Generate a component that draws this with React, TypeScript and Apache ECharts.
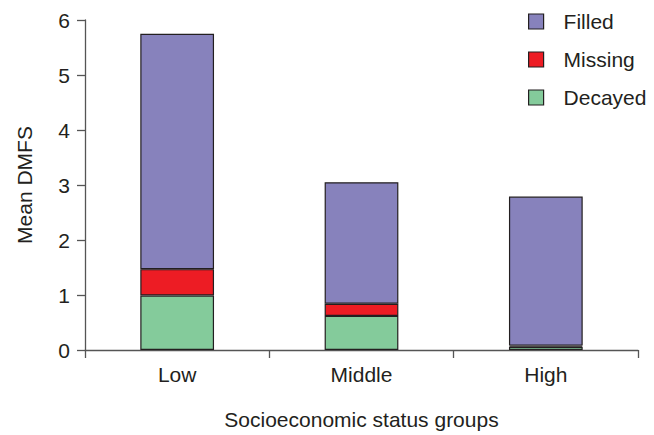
import React, { useEffect, useRef } from "react";
import * as echarts from "echarts";

const categories = ["Low", "Middle", "High"];
const decayed = [0.99, 0.62, 0.06];
const missing = [0.48, 0.22, 0.02];
const filled = [4.28, 2.21, 2.71];
const yTicks = [0, 6, 1];

const FONT = "'Liberation Sans', Arial, Helvetica, sans-serif";
const TXT = "#231f20";

export default function App() {
  const ref = useRef<HTMLDivElement>(null);
  useEffect(() => {
    if (!ref.current) return;
    const chart = echarts.init(ref.current, null, { renderer: "svg" });
    const border = { borderColor: "#231f20", borderWidth: 1.2 };
    chart.setOption({
      animation: false,
      textStyle: { fontFamily: FONT },
      grid: { left: 85, right: 16, top: 20, bottom: 80, containLabel: false },
      legend: {
        orient: "vertical",
        left: 528,
        top: 11,
        padding: 0,
        itemWidth: 15,
        itemHeight: 15,
        itemGap: 17,
        icon: "rect",
        data: ["Filled", "Missing", "Decayed"],
        itemStyle: { borderColor: "#231f20", borderWidth: 1.2 },
        textStyle: { fontSize: 21, color: TXT, fontFamily: FONT, padding: [0, 0, 0, 15] },
      },
      xAxis: {
        type: "category",
        data: categories,
        name: "Socioeconomic status groups",
        nameLocation: "middle",
        nameGap: 59,
        nameTextStyle: { fontSize: 21, color: TXT, fontFamily: FONT, verticalAlign: "top" },
        axisLine: { lineStyle: { color: "#555", width: 1.3 } },
        axisTick: { show: true, length: 8, lineStyle: { color: "#555", width: 1.3 } },
        axisLabel: { fontSize: 21, color: TXT, margin: 14, fontFamily: FONT },
      },
      yAxis: {
        type: "value",
        min: yTicks[0],
        max: yTicks[1],
        interval: yTicks[2],
        name: "Mean DMFS",
        nameLocation: "middle",
        nameGap: 50,
        nameTextStyle: { fontSize: 21, color: TXT, fontFamily: FONT },
        splitLine: { show: false },
        axisLine: { show: true, lineStyle: { color: "#555", width: 1.3 } },
        axisTick: { show: true, length: 8, lineStyle: { color: "#555", width: 1.3 } },
        axisLabel: { fontSize: 21, color: TXT, margin: 15, fontFamily: FONT },
      },
      series: [
        {
          name: "Decayed",
          type: "bar",
          stack: "t",
          barWidth: "40%",
          data: decayed,
          itemStyle: { color: "#84cb9b", ...border },
        },
        {
          name: "Missing",
          type: "bar",
          stack: "t",
          data: missing,
          itemStyle: { color: "#ed1c24", ...border },
        },
        {
          name: "Filled",
          type: "bar",
          stack: "t",
          data: filled,
          itemStyle: { color: "#8782bc", ...border },
        },
      ],
    });
    return () => chart.dispose();
  }, []);
  return <div ref={ref} style={{ width: 654, height: 435, position: "absolute", left: 0, top: 0 }} />;
}
